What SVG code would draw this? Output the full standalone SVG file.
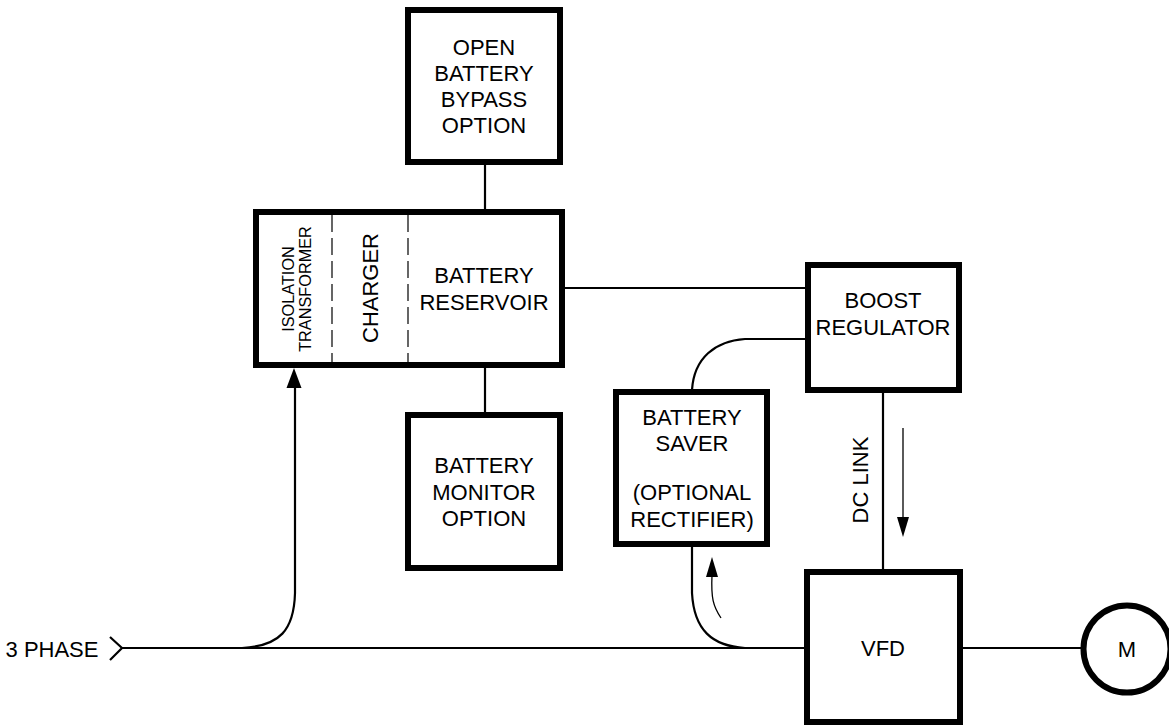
<svg xmlns="http://www.w3.org/2000/svg" width="1169" height="725" viewBox="0 0 1169 725">
<style>
.box{fill:#fff;stroke:#000;stroke-width:6}
.ln{fill:none;stroke:#000;stroke-width:2.2}
.thin{fill:none;stroke:#000;stroke-width:1.3}
.dash{fill:none;stroke:#000;stroke-width:1.2;stroke-dasharray:17,6}
text{font-family:"Liberation Sans",Arial,sans-serif;font-size:22px;fill:#000;text-anchor:middle}
</style>
<rect width="1169" height="725" fill="#fff"/>
<g id="connectors">
<line class="ln" x1="485" y1="165" x2="485" y2="210"/>
<line class="ln" x1="485" y1="367" x2="485" y2="413"/>
<line class="ln" x1="565" y1="288" x2="806" y2="288"/>
<path class="ln" d="M806,339 L745,339 C715,341 694,358 692,390"/>
<line class="ln" x1="883" y1="392" x2="883" y2="570"/>
<line class="ln" x1="962" y1="648" x2="1083" y2="648"/>
<path class="ln" d="M110,637 L122,648 L110,660"/>
<line class="ln" x1="122" y1="648" x2="806" y2="648"/>
<path class="ln" d="M242,648 C280,646 294,630 295,593 L295,385"/>
<path d="M294,368 L286.5,388 L301.5,388 Z" fill="#000"/>
<path class="ln" d="M692,546 L692,593 C694,630 712,646 745,648"/>
<path class="thin" d="M721,618 C713,606 711,598 712,575"/>
<path d="M712,557 L706,577 L718,577 Z" fill="#000"/>
<line class="thin" x1="903" y1="428" x2="903" y2="520"/>
<path d="M903,537 L897,517 L909,517 Z" fill="#000"/>
</g>
<g id="bypass">
<rect class="box" x="408" y="10" width="152" height="152"/>
<text x="484" y="55">OPEN</text>
<text x="484" y="81">BATTERY</text>
<text x="484" y="107">BYPASS</text>
<text x="484" y="133">OPTION</text>
</g>
<g id="main">
<rect class="box" x="256" y="212" width="306" height="153"/>
<line class="dash" x1="332" y1="215" x2="332" y2="363"/>
<line class="dash" x1="408" y1="215" x2="408" y2="363"/>
<text transform="translate(294,289) rotate(-90)" style="font-size:16.3px">ISOLATION</text>
<text transform="translate(311,289) rotate(-90)" style="font-size:16.3px">TRANSFORMER</text>
<text transform="translate(378,288) rotate(-90)">CHARGER</text>
<text x="484" y="283">BATTERY</text>
<text x="484" y="310">RESERVOIR</text>
</g>
<g id="monitor">
<rect class="box" x="408" y="415" width="152" height="153"/>
<text x="484" y="473">BATTERY</text>
<text x="484" y="500">MONITOR</text>
<text x="484" y="526">OPTION</text>
</g>
<g id="boost">
<rect class="box" x="808" y="265" width="151" height="125"/>
<text x="883" y="308">BOOST</text>
<text x="883" y="335">REGULATOR</text>
</g>
<g id="saver">
<rect class="box" x="616" y="392" width="151" height="152"/>
<text x="692" y="425">BATTERY</text>
<text x="692" y="451">SAVER</text>
<text x="692" y="500">(OPTIONAL</text>
<text x="692" y="527">RECTIFIER)</text>
</g>
<g id="dclink">
<text transform="translate(868,480) rotate(-90)">DC LINK</text>
</g>
<g id="vfd">
<rect class="box" x="807" y="572" width="153" height="150"/>
<text x="883" y="656">VFD</text>
</g>
<g id="motor">
<circle cx="1127" cy="649" r="43.5" fill="#fff" stroke="#000" stroke-width="6"/>
<text x="1127" y="657">M</text>
</g>
<g id="input">
<text x="52" y="657">3 PHASE</text>
</g>
</svg>
